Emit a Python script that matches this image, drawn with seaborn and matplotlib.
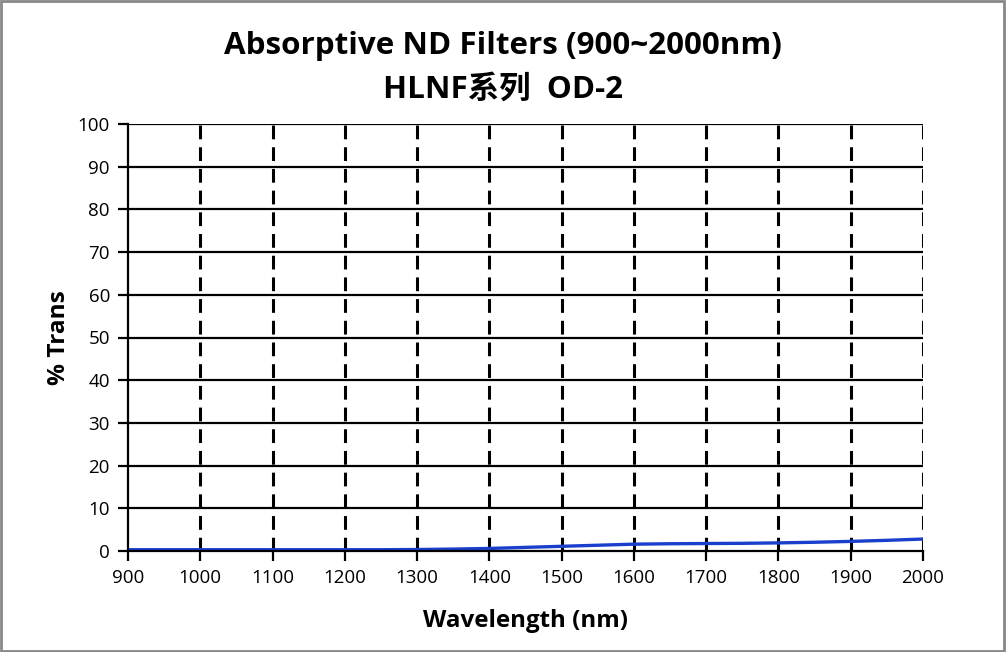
import matplotlib
matplotlib.use("Agg")
import matplotlib.pyplot as plt
import seaborn as sns
import pandas as pd

# values
wavelength = [900, 950, 1000, 1050, 1100, 1150, 1200, 1250, 1300, 1350, 1400,
              1450, 1500, 1550, 1600, 1650, 1700, 1750, 1800, 1850, 1900, 1950, 2000]
trans = [0.3, 0.3, 0.3, 0.3, 0.3, 0.3, 0.3, 0.3, 0.35, 0.45, 0.6,
         0.85, 1.1, 1.35, 1.6, 1.7, 1.75, 1.8, 1.9, 2.05, 2.25, 2.5, 2.8]
x_ticks = list(range(900, 2001, 100))
y_ticks = list(range(0, 101, 10))

title_lines = ["Absorptive ND Filters (900~2000nm)", "HLNF系列  OD-2"]

df = pd.DataFrame({"wavelength": wavelength, "trans": trans})

sns.set_theme(style="white")
fonts = ["Open Sans", "Noto Sans CJK SC", "DejaVu Sans"]
plt.rcParams["font.family"] = fonts
plt.rcParams["text.color"] = "black"
plt.rcParams["axes.labelcolor"] = "black"

fig = plt.figure(figsize=(10.06, 6.52), dpi=100)
ax = fig.add_axes([128 / 1006, 1 - 551 / 652, (923 - 128) / 1006, (551 - 124) / 652])

sns.lineplot(data=df, x="wavelength", y="trans", ax=ax, color="#1a3fcc", linewidth=2.4)

ax.set_xlim(900, 2000)
ax.set_ylim(0, 100)
ax.set_xticks(x_ticks)
ax.set_yticks(y_ticks)
ax.tick_params(axis="both", labelsize=13.5, colors="black", labelcolor="black",
               direction="out", length=7, width=1.6, pad=6)
ax.tick_params(axis="both", bottom=True, left=True)

for yv in y_ticks[1:]:
    ax.axhline(yv, color="black", linewidth=1.6, zorder=0)
for xv in x_ticks[1:]:
    ax.axvline(xv, color="black", linewidth=2.2, linestyle=(0, (4.5, 2.6)), zorder=0)

for side in ["top", "right"]:
    ax.spines[side].set_visible(False)
for side in ["left", "bottom"]:
    ax.spines[side].set_color("black")
    ax.spines[side].set_linewidth(1.6)

ax.set_xlabel("Wavelength (nm)", fontsize=17.4, fontweight="bold", labelpad=16)
ax.set_ylabel("% Trans", fontsize=17.6, fontweight="bold", labelpad=5)

fig.text(0.5, 1 - 46 / 652, title_lines[0], ha="center", va="center",
         fontsize=22.6, fontweight="bold")
fig.text(0.5, 1 - 90 / 652, title_lines[1], ha="center", va="center",
         fontsize=22.6, fontweight="bold")

border = plt.Rectangle((0.001, 0.002), 0.997, 0.996, transform=fig.transFigure,
                       fill=False, edgecolor="#888888", linewidth=2)
fig.patches.append(border)

fig.savefig("out.png", dpi=100)
